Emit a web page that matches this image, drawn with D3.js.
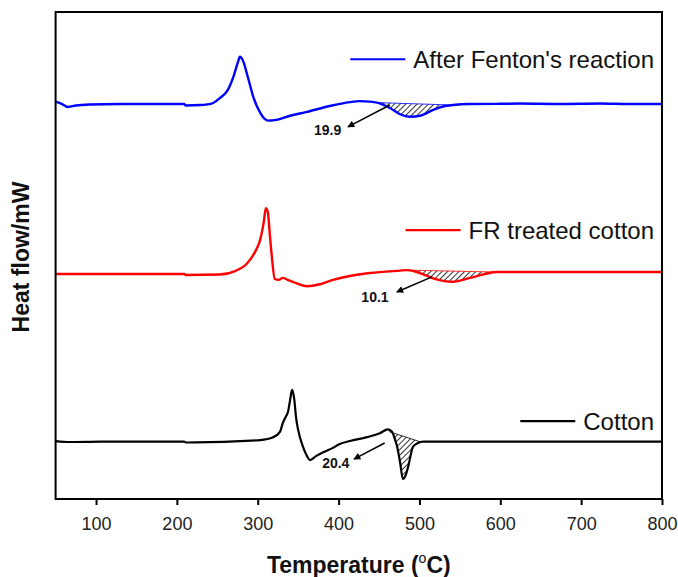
<!DOCTYPE html>
<html><head><meta charset="utf-8">
<script src="https://cdn.jsdelivr.net/npm/d3@7"></script>
<style>body{margin:0;background:#fff}svg{display:block}text{font-family:Arial,"Liberation Sans",sans-serif}</style>
</head><body>
<script>
// ---- data: temperature (°C) and heat flow (arbitrary mW, offset per curve) ----
const xTicks = [100,200,300,400,500,600,700,800];
const seriesNames = ["After Fenton's reaction","FR treated cotton","Cotton"];
const seriesColors = ["#0000ff","#ff0000","#000000"];

const fentonT = [50,58,65,75,92,130,209,211,229,243,253,263,270.5,275.5,278,281.5,288,295,302.5,309,312.5,321,340,361,389,414,426,439,447.5,463.5,476,488,501,517,531.5,541.5,562,600,624,674,723,760,800];
const fentonV = [81.6,81.1,80.5,80.8,81.0,81.1,81.1,80.8,80.9,81.2,82.3,84.0,87.0,89.7,90.8,90.1,86.5,82.3,79.5,78.0,77.7,77.8,78.7,79.5,80.7,81.5,81.7,81.6,81.4,80.3,79.0,78.5,78.7,79.9,80.7,80.9,81.1,81.15,81.2,81.1,81.2,81.1,81.1];

const frT = [50,130,209,211,253,272,287,296.5,303,307.5,310,312.5,315,317.5,321,326,331,337,343.5,361,377,393,414,439,476,484.5,500.5,519,541.5,562.5,581,596,674,800];
const frV = [46.2,46.2,46.2,46.0,46.1,46.8,48.4,50.7,53.2,56.9,59.7,58.9,54.2,49.7,45.2,45.0,45.4,45.0,44.6,43.7,44.1,45.0,45.8,46.4,46.9,47.0,46.4,45.2,44.6,45.4,46.2,46.6,46.6,46.6];

const cottonT = [50,68,105,209,211,278,303,319,327.5,331,335,337.5,340,342.5,345,347.5,350,356,361,364.5,372,381,393,401.5,414,435,451,461,466,470,472.5,476,479.5,483,486,492,498,504.5,600,800];
const cottonV = [11.9,11.7,11.8,11.8,11.6,11.9,12.1,12.7,13.8,15.6,17.0,17.9,20.3,22.4,20.7,16.6,14.2,10.7,8.8,8.0,8.8,9.6,10.5,11.3,11.9,12.7,13.5,14.3,13.8,12.1,10.7,7.6,4.1,4.9,6.6,10.7,11.5,11.8,11.8,11.8];

// integration baselines (shaded peak areas): [T start, V start, T end, V end]
const fentonBase = [447.5,81.4,541.5,80.9];
const frBase = [484.5,47.0,596,46.6];
const cottonBase = [463,13.8,502,11.7];

// enthalpy labels with arrows: [tail T, tail V, head T, head V, label T, label V]
const annotLabels = ["19.9","10.1","20.4"];
const fentonArrow = [463.5,80.9,411.5,76.4,386.5,74.8];
const frArrow = [515.5,45.6,472,42.5,445,40.5];
const cottonArrow = [457,11.5,419,8.2,396.5,6.3];

// ---- drawing ----
const W = 678, H = 577;
const svg = d3.select("body").append("svg").attr("width",W).attr("height",H);
const x = d3.scaleLinear().domain([50,800]).range([55.6,662]);
const y = d3.scaleLinear().domain([0,100]).range([499,12]);

const defs = svg.append("defs");
const pat = defs.append("pattern").attr("id","hatch").attr("patternUnits","userSpaceOnUse")
  .attr("width",4).attr("height",4).attr("patternTransform","rotate(45)");
pat.append("line").attr("x1",0).attr("y1",0).attr("x2",0).attr("y2",4).attr("stroke","#000").attr("stroke-width",1.6);
defs.append("marker").attr("id","ah").attr("viewBox","0 0 10 10").attr("refX",9).attr("refY",5)
  .attr("markerWidth",9).attr("markerHeight",7).attr("markerUnits","userSpaceOnUse").attr("orient","auto")
  .append("path").attr("d","M0,0L10,5L0,10z").attr("fill","#000");

const series = [
  {T:fentonT,V:fentonV,base:fentonBase,arrow:fentonArrow},
  {T:frT,V:frV,base:frBase,arrow:frArrow},
  {T:cottonT,V:cottonV,base:cottonBase,arrow:cottonArrow}
];

const line = d3.line().x(d=>x(d[0])).y(d=>y(d[1])).curve(d3.curveMonotoneX);

series.forEach((s,i)=>{
  const pts = s.T.map((t,k)=>[t,s.V[k]]);
  const [t0,v0,t1,v1] = s.base;
  const interp = t => { for(let k=1;k<pts.length;k++){ if(pts[k][0]>=t){const a=pts[k-1],b=pts[k];return a[1]+(b[1]-a[1])*(t-a[0])/(b[0]-a[0]);} } return pts[pts.length-1][1]; };
  const inside = [[t0,interp(t0)]].concat(pts.filter(p=>p[0]>t0&&p[0]<t1)).concat([[t1,interp(t1)]]);
  const baseAt = t => v0+(v1-v0)*(t-t0)/(t1-t0);
  const area = d3.area().x(d=>x(d[0])).y0(d=>y(baseAt(d[0]))).y1(d=>y(d[1])).curve(d3.curveMonotoneX);
  svg.append("path").attr("d",area(inside)).attr("fill","url(#hatch)");
  svg.append("line").attr("x1",x(t0)).attr("y1",y(v0)).attr("x2",x(t1)).attr("y2",y(v1))
    .attr("stroke",i===2?"#000":seriesColors[i]).attr("stroke-width",1).attr("opacity",0.8);
  svg.append("path").attr("d",line(pts)).attr("fill","none").attr("stroke",seriesColors[i])
    .attr("stroke-width",i===2?2.2:2.4).attr("stroke-linejoin","round");
  const a = s.arrow;
  svg.append("line").attr("x1",x(a[0])).attr("y1",y(a[1])).attr("x2",x(a[2])).attr("y2",y(a[3]))
    .attr("stroke","#000").attr("stroke-width",1.5).attr("marker-end","url(#ah)");
  svg.append("text").attr("x",x(a[4])).attr("y",y(a[5])).attr("text-anchor","middle")
    .attr("font-size",14).attr("font-weight","bold").attr("fill","#111").text(annotLabels[i]);
});

// frame
svg.append("rect").attr("x",x(50)).attr("y",y(100)).attr("width",x(800)-x(50)).attr("height",y(0)-y(100))
  .attr("fill","none").attr("stroke","#000").attr("stroke-width",2);

// x axis
const ax = svg.append("g").attr("transform",`translate(0,${y(0)})`)
  .call(d3.axisBottom(x).tickValues(xTicks).tickSize(6).tickPadding(12).tickFormat(d3.format("d")));
ax.select(".domain").remove();
ax.selectAll(".tick line").attr("stroke","#000").attr("stroke-width",2);
ax.selectAll(".tick text").attr("font-size",18).attr("fill","#222").attr("font-family","Arial, Liberation Sans, sans-serif");

// axis titles
const xt = svg.append("text").attr("x",(x(50)+x(800))/2).attr("y",573).attr("text-anchor","middle")
  .attr("font-size",23).attr("font-weight","bold").attr("fill","#111");
xt.append("tspan").text("Temperature (");
xt.append("tspan").attr("dy",-10).attr("font-size",14).attr("font-weight","normal").text("o");
xt.append("tspan").attr("dy",10).text("C)");
svg.append("text").attr("transform","translate(29,257) rotate(-90)").attr("text-anchor","middle")
  .attr("font-size",23).attr("font-weight","bold").attr("fill","#111").text("Heat flow/mW");

// legends
const legendV = [90.3, 55.2, 16.0];
seriesNames.forEach((n,i)=>{
  const ty = y(legendV[i]);
  const t = svg.append("text").attr("x",654).attr("y",ty+8.5).attr("text-anchor","end")
    .attr("font-size",24).attr("fill","#111").text(n);
  const w = t.node().getComputedTextLength();
  const x1 = 654-w-8;
  svg.append("line").attr("x1",x1-55).attr("x2",x1).attr("y1",ty).attr("y2",ty)
    .attr("stroke",seriesColors[i]).attr("stroke-width",2.2);
});
</script>
</body></html>
